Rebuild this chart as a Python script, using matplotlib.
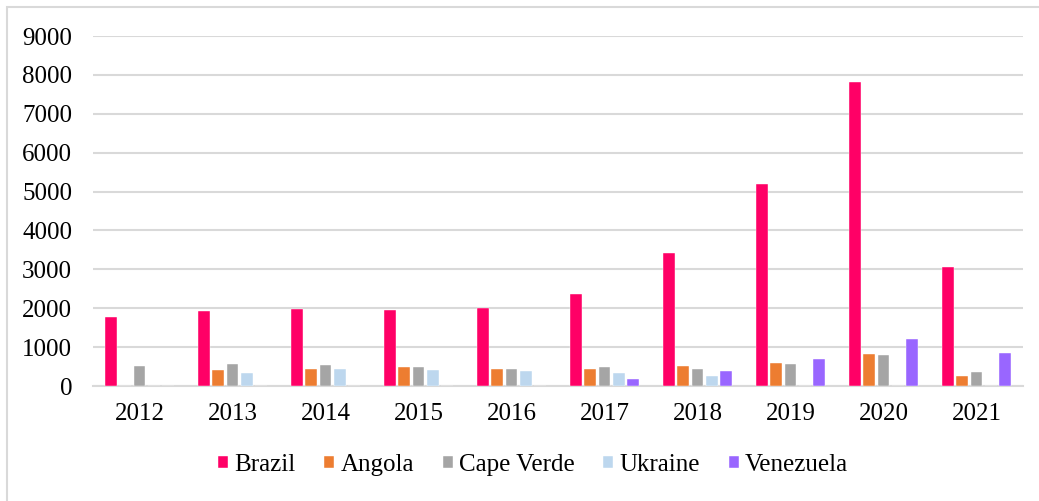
import matplotlib.pyplot as plt
import numpy as np
from matplotlib.patches import Rectangle

years = ["2012", "2013", "2014", "2015", "2016", "2017", "2018", "2019", "2020", "2021"]
brazil = [1766, 1937, 1980, 1962, 2006, 2374, 3420, 5206, 7817, 3049]
angola = [0, 420, 437, 497, 429, 445, 514, 593, 815, 248]
cape_verde = [506, 573, 540, 497, 437, 489, 429, 575, 789, 351]
ukraine = [0, 334, 437, 411, 377, 334, 257, 0, 0, 0]
venezuela = [0, 0, 0, 0, 0, 180, 380, 686, 1219, 850]

series = [
    ("Brazil", brazil, "#FF0066"),
    ("Angola", angola, "#ED7D31"),
    ("Cape Verde", cape_verde, "#A5A5A5"),
    ("Ukraine", ukraine, "#BDD7EE"),
    ("Venezuela", venezuela, "#9966FF"),
]

plt.rcParams["font.family"] = ["Liberation Serif", "DejaVu Serif"]

fig = plt.figure(figsize=(10.39, 5.01), dpi=100)
ax = fig.add_axes([0.0895, 0.2295, 0.8951, 0.6985])

x = np.arange(len(years))
step = 0.154
width = 0.124
for i, (name, vals, color) in enumerate(series):
    ax.bar(x + (i - 2) * step, vals, width, color=color, label=name,
           edgecolor="white", linewidth=0.3, zorder=3)

ax.set_xlim(-0.5, len(years) - 0.5)
ax.set_ylim(0, 9000)
ax.set_yticks(range(0, 9001, 1000))
ax.set_xticks(x)
ax.set_xticklabels(years)
ax.tick_params(axis="both", length=0, labelsize=18, colors="black")
ax.tick_params(axis="y", pad=15)
ax.tick_params(axis="x", pad=12)
ax.grid(axis="y", color="#D9D9D9", linewidth=1.5, zorder=0)
for s in ["top", "right", "left"]:
    ax.spines[s].set_visible(False)
ax.spines["bottom"].set_color("#D9D9D9")
ax.spines["bottom"].set_linewidth(1.5)

leg = fig.legend(loc="center", bbox_to_anchor=(0.513, 0.072), ncol=5, frameon=False,
                 prop={"family": "Liberation Serif", "size": 18},
                 handlelength=0.4, handleheight=0.4, handletextpad=0.25,
                 columnspacing=1.15)

fig.patches.append(Rectangle((7 / 1039, -0.02), 1.02, 1 - 7 / 501 + 0.02,
                             transform=fig.transFigure, fill=False,
                             edgecolor="#D9D9D9", linewidth=1.5))

fig.savefig("out.png", dpi=100)
